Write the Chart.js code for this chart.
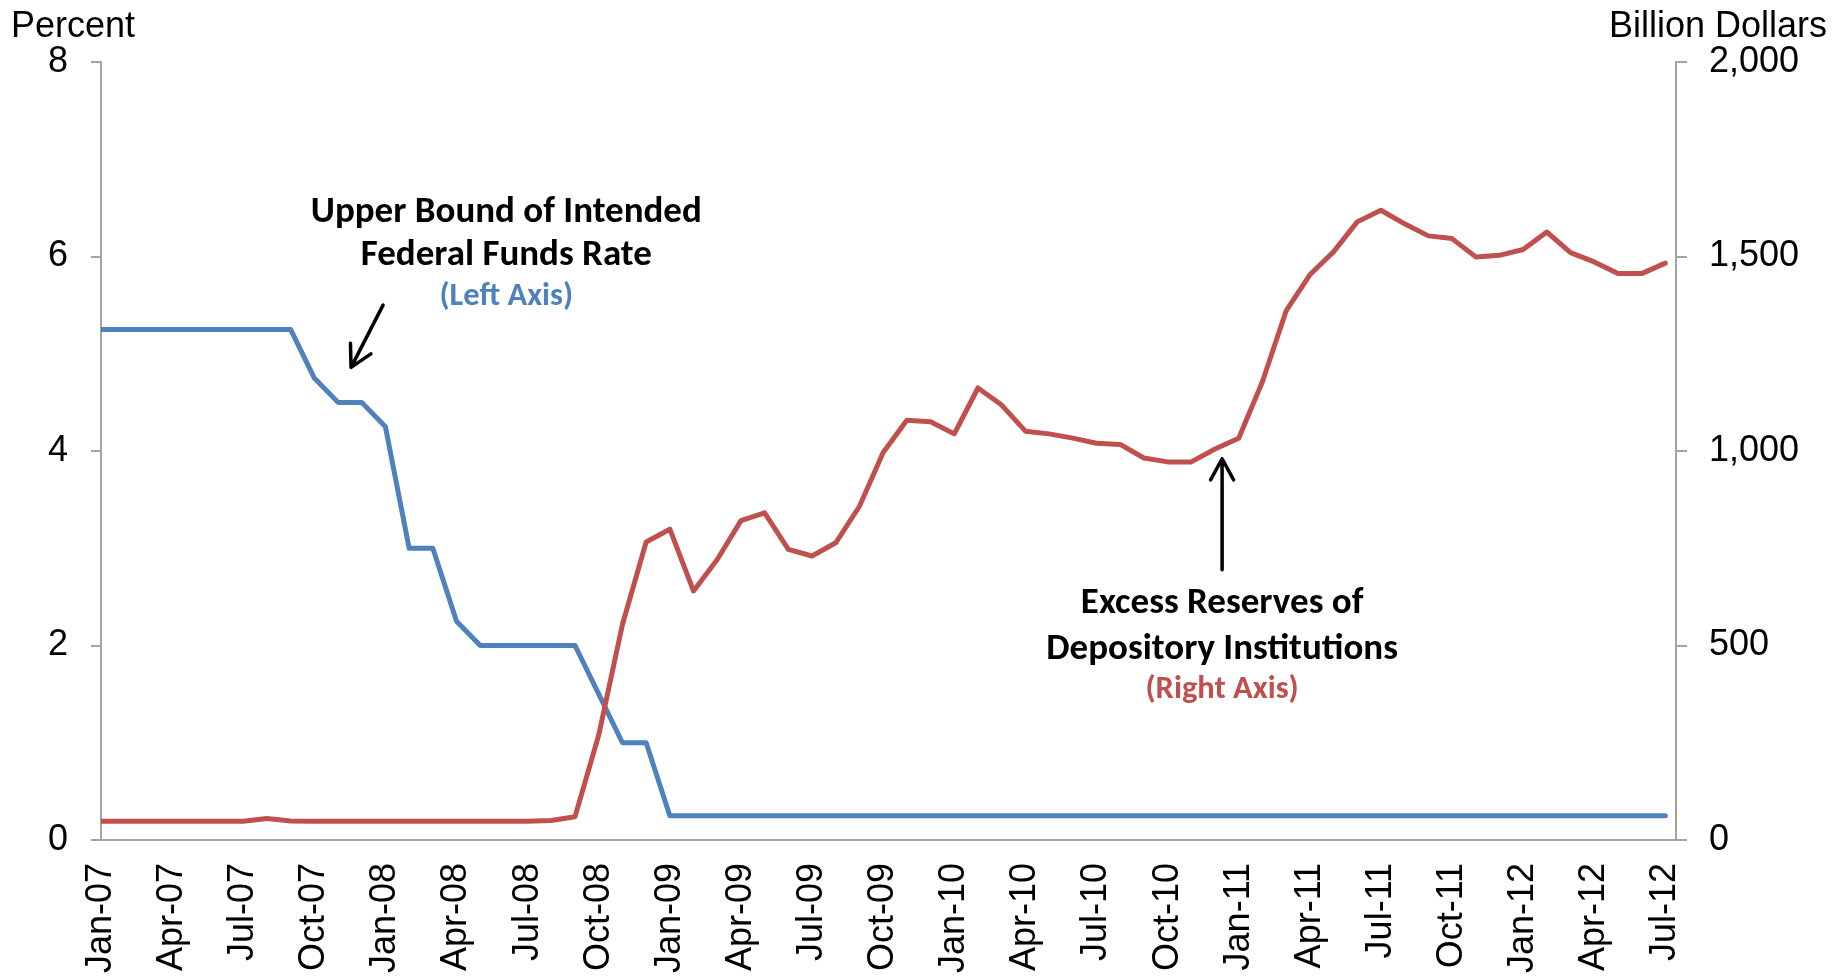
<!DOCTYPE html>
<html>
<head>
<meta charset="utf-8">
<script src="https://cdn.jsdelivr.net/npm/chart.js@4.4.1/dist/chart.umd.min.js"></script>
<style>
  html, body { margin: 0; padding: 0; background: #fff; }
  canvas { display: block; }
</style>
</head>
<body>
<canvas id="chart" width="1839" height="976"></canvas>
<script>
"use strict";
// monthly observations, Jan-07 .. Jul-12
const months = [
    "Jan-07", "Feb-07", "Mar-07", "Apr-07", "May-07", "Jun-07", "Jul-07", "Aug-07", "Sep-07", "Oct-07", "Nov-07", "Dec-07",
    "Jan-08", "Feb-08", "Mar-08", "Apr-08", "May-08", "Jun-08", "Jul-08", "Aug-08", "Sep-08", "Oct-08", "Nov-08", "Dec-08",
    "Jan-09", "Feb-09", "Mar-09", "Apr-09", "May-09", "Jun-09", "Jul-09", "Aug-09", "Sep-09", "Oct-09", "Nov-09", "Dec-09",
    "Jan-10", "Feb-10", "Mar-10", "Apr-10", "May-10", "Jun-10", "Jul-10", "Aug-10", "Sep-10", "Oct-10", "Nov-10", "Dec-10",
    "Jan-11", "Feb-11", "Mar-11", "Apr-11", "May-11", "Jun-11", "Jul-11", "Aug-11", "Sep-11", "Oct-11", "Nov-11", "Dec-11",
    "Jan-12", "Feb-12", "Mar-12", "Apr-12", "May-12", "Jun-12", "Jul-12"
];
// upper bound of intended federal funds rate, percent (left axis)
const fedFundsUpper = [
    5.25, 5.25, 5.25, 5.25, 5.25, 5.25, 5.25, 5.25, 5.25, 4.75, 4.5, 4.5,
    4.25, 3.0, 3.0, 2.25, 2.0, 2.0, 2.0, 2.0, 2.0, 1.5, 1.0, 1.0,
    0.25, 0.25, 0.25, 0.25, 0.25, 0.25, 0.25, 0.25, 0.25, 0.25, 0.25, 0.25,
    0.25, 0.25, 0.25, 0.25, 0.25, 0.25, 0.25, 0.25, 0.25, 0.25, 0.25, 0.25,
    0.25, 0.25, 0.25, 0.25, 0.25, 0.25, 0.25, 0.25, 0.25, 0.25, 0.25, 0.25,
    0.25, 0.25, 0.25, 0.25, 0.25, 0.25, 0.25
];
// excess reserves of depository institutions, billion dollars (right axis)
const excessReserves = [
    48, 48, 48, 48, 48, 48, 48, 55, 49, 48, 48, 48,
    48, 48, 48, 48, 48, 48, 48, 50, 60, 270, 554, 766,
    799, 640, 721, 821, 841, 747, 730, 764, 858, 996, 1079, 1075,
    1044, 1162, 1118, 1051, 1044, 1033, 1020, 1017, 982, 972, 972, 1005,
    1033, 1178, 1360, 1453, 1512, 1589, 1619, 1584, 1553, 1546, 1499, 1503,
    1518, 1563, 1510, 1486, 1456, 1456, 1483
];
// labelled months on the x axis
const tickMonths = [
    "Jan-07", "Apr-07", "Jul-07", "Oct-07", "Jan-08", "Apr-08", "Jul-08", "Oct-08",
    "Jan-09", "Apr-09", "Jul-09", "Oct-09", "Jan-10", "Apr-10", "Jul-10", "Oct-10",
    "Jan-11", "Apr-11", "Jul-11", "Oct-11", "Jan-12", "Apr-12", "Jul-12"
];
const leftTicks = [0, 2, 4, 6, 8];
const rightTicks = [0, 500, 1000, 1500, 2000];

const blue = "#4F81BD";
const red = "#C0504D";
const axisGray = "#a3a3a3";
const sansFont = "'Liberation Sans', Arial, sans-serif";
const noteFont = "Carlito, Calibri, Lato, 'Open Sans', sans-serif";

function toPoints(values) {
    return values.map((v, i) => ({ x: i, y: v }));
}

// text and arrows laid over the chart
const notesPlugin = {
    id: "notes",
    afterDraw(chart) {
        const ctx = chart.ctx;
        const xs = chart.scales.x;
        const ys = chart.scales.yLeft;
        const area = chart.chartArea;
        ctx.save();

        ctx.fillStyle = "#000";
        ctx.font = "36px " + sansFont;
        ctx.textBaseline = "alphabetic";
        ctx.textAlign = "left";
        ctx.fillText("Percent", chart.scales.yLeft.left + 11, area.top - 25);
        ctx.textAlign = "right";
        ctx.fillText("Billion Dollars", chart.scales.yRight.right - 12, area.top - 25);

        ctx.textAlign = "center";
        const write = (text, xi, yv, size, color) => {
            ctx.font = "bold " + size + "px " + noteFont;
            ctx.fillStyle = color;
            ctx.fillText(text, xs.getPixelForValue(xi), ys.getPixelForValue(yv));
        };
        write("Upper Bound of Intended", 17.1, 6.35, 37, "#000");
        write("Federal Funds Rate", 17.1, 5.91, 37, "#000");
        write("(Left Axis)", 17.1, 5.50, 32.5, blue);
        write("Excess Reserves of", 47.3, 2.33, 37, "#000");
        write("Depository Institutions", 47.3, 1.86, 37, "#000");
        write("(Right Axis)", 47.3, 1.46, 32.5, red);

        const arrow = (x0, y0, x1, y1) => {
            const px0 = xs.getPixelForValue(x0), py0 = ys.getPixelForValue(y0);
            const px1 = xs.getPixelForValue(x1), py1 = ys.getPixelForValue(y1);
            const ang = Math.atan2(py1 - py0, px1 - px0);
            const head = 24, spread = 0.5;
            ctx.strokeStyle = "#000";
            ctx.lineWidth = 3.5;
            ctx.lineCap = "round";
            ctx.lineJoin = "round";
            ctx.beginPath();
            ctx.moveTo(px0, py0);
            ctx.lineTo(px1, py1);
            ctx.moveTo(px1 - head * Math.cos(ang - spread), py1 - head * Math.sin(ang - spread));
            ctx.lineTo(px1, py1);
            ctx.lineTo(px1 - head * Math.cos(ang + spread), py1 - head * Math.sin(ang + spread));
            ctx.stroke();
        };
        arrow(11.9, 5.50, 10.55, 4.86);
        arrow(47.3, 2.78, 47.3, 3.92);

        ctx.restore();
    }
};

const ctx = document.getElementById("chart").getContext("2d");
new Chart(ctx, {
    type: "line",
    data: {
        datasets: [
            {
                label: "Excess Reserves of Depository Institutions",
                data: toPoints(excessReserves),
                yAxisID: "yRight",
                borderColor: red,
                borderWidth: 5,
                pointRadius: 0,
                tension: 0,
                borderJoinStyle: "round",
                borderCapStyle: "round",
            },
            {
                label: "Upper Bound of Intended Federal Funds Rate",
                data: toPoints(fedFundsUpper),
                yAxisID: "yLeft",
                borderColor: blue,
                borderWidth: 5,
                pointRadius: 0,
                tension: 0,
                borderJoinStyle: "round",
                borderCapStyle: "round",
            },
        ],
    },
    options: {
        responsive: false,
        animation: false,
        devicePixelRatio: 1,
        layout: { padding: { top: 62, left: 0, right: 0, bottom: 0 } },
        plugins: {
            legend: { display: false },
            tooltip: { enabled: false },
        },
        scales: {
            x: {
                type: "linear",
                min: 0,
                max: 66.45,
                afterBuildTicks: (axis) => {
                    axis.ticks = tickMonths.map((m) => ({ value: months.indexOf(m) }));
                },
                afterFit: (axis) => { axis.height = 136; },
                grid: { drawOnChartArea: false, drawTicks: false },
                border: { color: axisGray, width: 2 },
                ticks: {
                    autoSkip: false,
                    minRotation: 90,
                    maxRotation: 90,
                    padding: 23,
                    color: "#000",
                    font: { family: sansFont, size: 36 },
                    callback: (value) => months[value],
                },
            },
            yLeft: {
                position: "left",
                min: 0,
                max: 8,
                afterBuildTicks: (axis) => {
                    axis.ticks = leftTicks.map((v) => ({ value: v }));
                },
                afterFit: (axis) => { axis.width = 101; },
                grid: { drawOnChartArea: false, drawTicks: true, tickLength: 10, color: axisGray, lineWidth: 2 },
                border: { color: axisGray, width: 2 },
                ticks: {
                    padding: 23,
                    color: "#000",
                    font: { family: sansFont, size: 36 },
                    callback: (value) => String(value),
                },
            },
            yRight: {
                position: "right",
                min: 0,
                max: 2000,
                afterBuildTicks: (axis) => {
                    axis.ticks = rightTicks.map((v) => ({ value: v }));
                },
                afterFit: (axis) => { axis.width = 163; },
                grid: { drawOnChartArea: false, drawTicks: true, tickLength: 11, color: axisGray, lineWidth: 2 },
                border: { color: axisGray, width: 2 },
                ticks: {
                    padding: 22,
                    color: "#000",
                    font: { family: sansFont, size: 36 },
                    callback: (value) => value.toLocaleString("en-US"),
                },
            },
        },
    },
    plugins: [notesPlugin],
});
</script>
</body>
</html>
